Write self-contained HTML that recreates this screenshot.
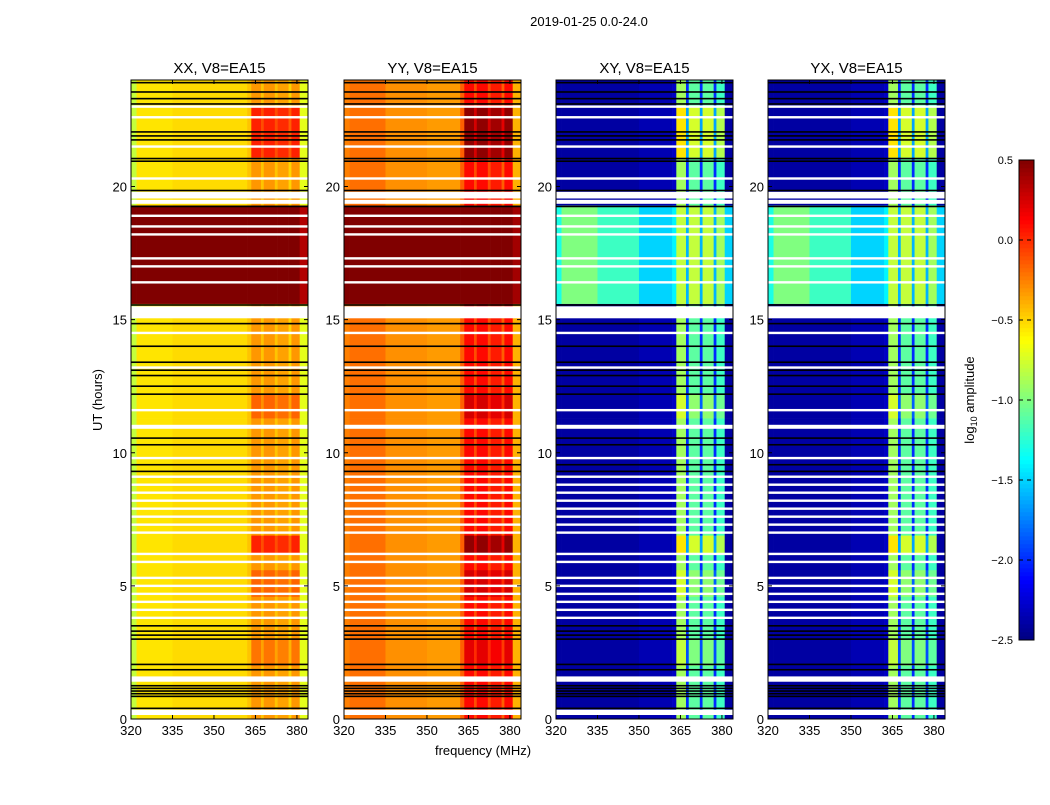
<!DOCTYPE html>
<html><head><meta charset="utf-8">
<style>
html,body{margin:0;padding:0;background:#fff;}
svg text{font-family:"Liberation Sans","DejaVu Sans",sans-serif;fill:#000;}
</style></head>
<body>
<svg id="fig" width="1050" height="800" viewBox="0 0 1050 800" xmlns="http://www.w3.org/2000/svg">
<rect x="0" y="0" width="1050" height="800" fill="#fff"/>
<text x="589" y="26" font-size="13" text-anchor="middle">2019-01-25 0.0-24.0</text>
<text x="483" y="755" font-size="13" text-anchor="middle">frequency (MHz)</text>
<text x="102" y="400" font-size="13" text-anchor="middle" transform="rotate(-90 102 400)">UT (hours)</text>
<g id="panels"></g>
<g id="cbar"></g>
</svg>
<script>
// ---- data ----
const polNames = ["XX, V8=EA15","YY, V8=EA15","XY, V8=EA15","YX, V8=EA15"];
const freqEdges = [320,322,335,350,362,363.5,367,368,372,373,377,378,381,384];
const normalProfile = [
  [-0.8,-0.55,-0.52,-0.52,-0.45,-0.32,-0.45,-0.32,-0.45,-0.35,-0.5,-0.32,-0.7],
  [-0.25,-0.2,-0.3,-0.33,-0.15,0.1,-0.1,0.1,-0.1,0.05,-0.15,0.1,-0.4],
  [-2.4,-2.4,-2.4,-2.35,-2.3,-0.9,-2.0,-1.1,-2.0,-1.1,-2.0,-1.2,-2.4],
  [-2.4,-2.4,-2.4,-2.35,-2.3,-0.9,-2.0,-1.1,-2.0,-1.1,-2.0,-1.2,-2.4]
];
const highProfile = [
  [0.5,0.5,0.5,0.5,0.5,0.5,0.5,0.5,0.5,0.5,0.5,0.5,0.35],
  [0.5,0.5,0.5,0.5,0.5,0.5,0.5,0.5,0.5,0.5,0.5,0.5,0.4],
  [-1.3,-1.0,-1.2,-1.5,-1.4,-0.8,-1.6,-0.8,-1.6,-0.8,-1.6,-0.9,-1.5],
  [-1.3,-1.0,-1.2,-1.5,-1.4,-0.8,-1.6,-0.8,-1.6,-0.8,-1.6,-0.9,-1.5]
];
const timeRegions = [[0,15.6,"n"],[15.6,19.3,"h"],[19.3,24,"n"]];
const boosts = [[21.1,23.0,0.35],[6.2,6.9,0.35],[11.3,12.2,0.15],[2.0,3.0,0.1],[4.6,5.6,0.15]];
const whiteBlocks = [[0.15,0.35],[1.4,1.6],[10.9,11.05],[15.05,15.5],[19.35,19.5],[19.55,19.8]];
const whiteLines = [3.8,4.1,4.4,4.7,5.0,5.3,5.9,6.2,7.0,7.3,7.6,7.9,8.2,8.5,8.8,9.1,9.8,11.6,13.2,14.5,16.4,17.0,17.3,18.2,18.5,18.9,20.3,21.5,22.6,23.0];
const blackLines = [0.4,0.85,0.95,1.05,1.15,1.25,1.85,2.05,3.0,3.15,3.3,3.5,9.3,9.55,10.3,10.55,12.2,12.5,12.9,13.1,13.4,14.0,14.85,15.55,19.25,19.85,20.95,21.05,21.75,21.9,22.05,23.1,23.3,23.55,23.9];
const xTicks = [320,335,350,365,380];
const yTicks = [0,5,10,15,20];
const cbarTicks = [0.5,0.0,-0.5,-1.0,-1.5,-2.0,-2.5];
const cbarLabels = ["0.5","0.0","\u22120.5","\u22121.0","\u22121.5","\u22122.0","\u22122.5"];
// ---- layout ----
const panelLeft = [131,344,556,768];
const PW = 177, PT = 80, PB = 719;
const F0 = 320, F1 = 384, T0 = 0, T1 = 24;
const VMIN = -2.5, VMAX = 0.5;
const NS = "http://www.w3.org/2000/svg";
function jet(v){
  let x = (v - VMIN)/(VMAX - VMIN); x = Math.max(0, Math.min(1, x));
  const f = t => Math.max(0, Math.min(1, t));
  const r = f(1.5 - Math.abs(4*x - 3)), g = f(1.5 - Math.abs(4*x - 2)), b = f(1.5 - Math.abs(4*x - 1));
  return "rgb(" + Math.round(r*255) + "," + Math.round(g*255) + "," + Math.round(b*255) + ")";
}
function mk(tag, attrs, parent){
  const e = document.createElementNS(NS, tag);
  for (const k in attrs) e.setAttribute(k, attrs[k]);
  parent.appendChild(e); return e;
}
const panels = document.getElementById("panels");
const ty = t => PB - (t - T0)/(T1 - T0)*(PB - PT);
polNames.forEach((name, p) => {
  const L = panelLeft[p];
  const fx = f => L + (f - F0)/(F1 - F0)*PW;
  const g = mk("g", {}, panels);
  
  
  const bounds = new Set([T0, T1]);
  timeRegions.forEach(r => { bounds.add(r[0]); bounds.add(r[1]); });
  boosts.forEach(b => { bounds.add(b[0]); bounds.add(b[1]); });
  const bs = [...bounds].sort((a,b) => a - b);
  for (let i = 0; i < bs.length - 1; i++){
    const t0 = bs[i], t1 = bs[i+1], tm = (t0 + t1)/2;
    const reg = timeRegions.find(r => tm >= r[0] && tm < r[1]);
    const prof = reg[2] === "h" ? highProfile[p] : normalProfile[p];
    const bo = boosts.find(b => tm >= b[0] && tm < b[1]);
    for (let j = 0; j < freqEdges.length - 1; j++){
      let v = prof[j];
      if (bo && reg[2] === "n" && freqEdges[j] >= 363 && freqEdges[j+1] <= 381) v += bo[2];
      const c = mk("rect", {x: fx(freqEdges[j]), y: ty(t1), width: fx(freqEdges[j+1]) - fx(freqEdges[j]) + 0.3, height: ty(t0) - ty(t1) + 0.3, fill: jet(v)}, g);
      
      
    }
  }
  whiteBlocks.forEach(b => {
    const r = mk("rect", {x: L, y: ty(b[1]), width: PW, height: ty(b[0]) - ty(b[1]), fill: "#fff"}, g);
    
    
  });
  whiteLines.forEach(t => {
    const r = mk("rect", {x: L, y: ty(t) - 1.2, width: PW, height: 2.4, fill: "#fff"}, g);
    
    
  });
  blackLines.forEach(t => {
    const r = mk("rect", {x: L, y: ty(t) - 0.8, width: PW, height: 1.6, fill: "#000"}, g);
    
    
  });
  const fr = mk("rect", {x: L, y: PT, width: PW, height: PB - PT, fill: "none", stroke: "#000", "stroke-width": 1}, g);
  
  
  const tt = mk("text", {x: L + PW/2, y: 73, "font-size": 15, "text-anchor": "middle"}, g);
  tt.textContent = name;
  
  
  xTicks.forEach(f => {
    const x = fx(f);
    const l1 = mk("line", {x1: x, x2: x, y1: PB, y2: PB - 4, stroke: "#000"}, g);
    
    
    const l2 = mk("line", {x1: x, x2: x, y1: PT, y2: PT + 4, stroke: "#000"}, g);
    
    
    const tx = mk("text", {x: x, y: PB + 16, "font-size": 13, "text-anchor": "middle"}, g);
    tx.textContent = f;
    
    
  });
  yTicks.forEach(t => {
    const y = ty(t);
    const l1 = mk("line", {x1: L, x2: L + 4, y1: y, y2: y, stroke: "#000"}, g);
    
    
    const l2 = mk("line", {x1: L + PW, x2: L + PW - 4, y1: y, y2: y, stroke: "#000"}, g);
    
    
    const tx = mk("text", {x: L - 4, y: y + 5, "font-size": 13, "text-anchor": "end"}, g);
    tx.textContent = t;
    
    
  });
});
// colorbar
const cb = document.getElementById("cbar");
const CX = 1019, CW = 15, CT = 160, CB = 640;
const cy = v => CB - (v - VMIN)/(VMAX - VMIN)*(CB - CT);
for (let i = 0; i < 120; i++){
  const v0 = VMIN + i*(VMAX - VMIN)/120, v1 = VMIN + (i+1)*(VMAX - VMIN)/120;
  const r = mk("rect", {x: CX, y: cy(v1), width: CW, height: cy(v0) - cy(v1) + 0.3, fill: jet((v0 + v1)/2)}, cb);
  
  
}
const cf = mk("rect", {x: CX, y: CT, width: CW, height: CB - CT, fill: "none", stroke: "#000"}, cb);


cbarTicks.forEach((v, i) => {
  const y = cy(v);
  const l = mk("line", {x1: CX, x2: CX + CW, y1: y, y2: y, stroke: "#000", "stroke-dasharray": "4,4"}, cb);
  
  
  const t = mk("text", {x: CX - 6, y: y + 4, "font-size": 11, "text-anchor": "end"}, cb);
  t.textContent = cbarLabels[i];
  
  
});
const cl = mk("text", {x: 974, y: 400, "font-size": 13, "text-anchor": "middle", transform: "rotate(-90 974 400)"}, cb);
cl.innerHTML = 'log<tspan font-size="9" dy="3">10</tspan><tspan dy="-3"> amplitude</tspan>';


</script>
</body></html>
